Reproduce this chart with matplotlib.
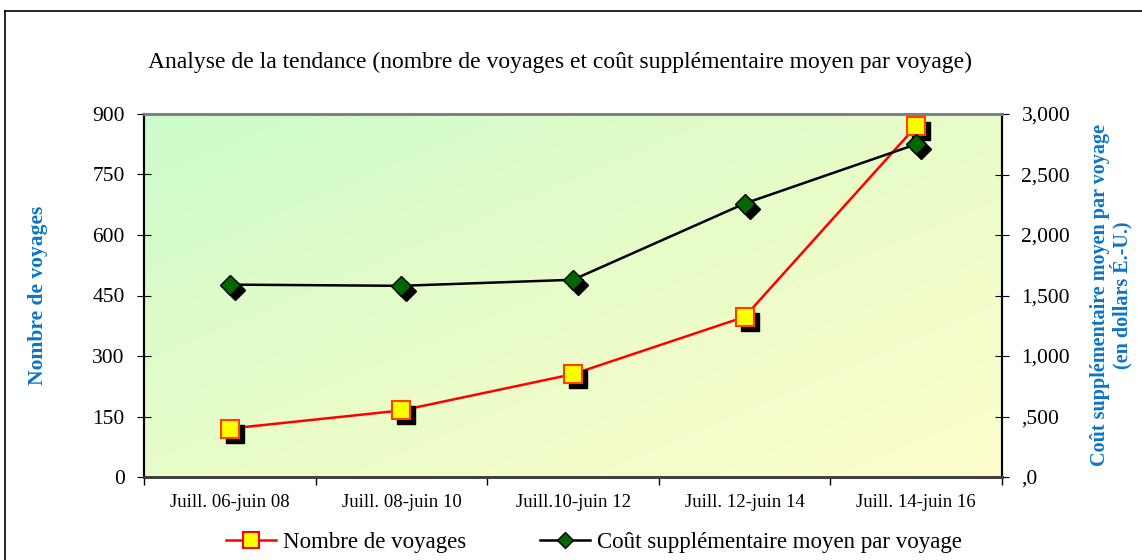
import numpy as np
import matplotlib
matplotlib.use("Agg")
import matplotlib.pyplot as plt
import matplotlib.transforms as mtransforms
from matplotlib.colors import LinearSegmentedColormap
from matplotlib.lines import Line2D

periods = ["Juill. 06-juin 08", "Juill. 08-juin 10", "Juill.10-juin 12",
           "Juill. 12-juin 14", "Juill. 14-juin 16"]
nb_voyages = [120, 165, 255, 397, 870]
cout_moyen = [1590, 1580, 1630, 2260, 2750]
right_ticks = [0, 500, 1000, 1500, 2000, 2500, 3000]
right_labels = [",0", ",500", "1,000", "1,500", "2,000", "2,500", "3,000"]

plt.rcParams["font.family"] = ["Liberation Serif", "DejaVu Serif"]
blue = "#0a74c8"

fig = plt.figure(figsize=(11.42, 5.6), dpi=100)
ax = fig.add_axes([144 / 1142, 1 - 477 / 560, 858 / 1142, 363 / 560])
ax2 = ax.twinx()

# gradient background, green top-left to yellow bottom-right
cmap = LinearSegmentedColormap.from_list("bg", ["#ccfccc", "#e8fcc8", "#fdfdcc"])
gx, gy = np.meshgrid(np.linspace(0, 1, 200), np.linspace(0, 1, 200))
grad = (gx + gy) / 2
ax.imshow(grad, cmap=cmap, extent=[-0.5, 4.5, 0, 900], aspect="auto", zorder=0)

x = np.arange(len(periods))
shadow = mtransforms.offset_copy(ax.transData, fig, x=5, y=-5, units="dots")
shadow2 = mtransforms.offset_copy(ax2.transData, fig, x=5, y=-5, units="dots")

ax.plot(x, nb_voyages, color="#ff0000", lw=1.8, zorder=2)
ax.plot(x, nb_voyages, ls="none", marker="s", ms=13, color="black",
        transform=shadow, zorder=3)
ax.plot(x, nb_voyages, ls="none", marker="s", ms=13, mfc="#ffff00",
        mec="#ff4000", mew=1.5, zorder=4)

ax2.plot(x, cout_moyen, color="black", lw=1.8, zorder=2)
ax2.plot(x, cout_moyen, ls="none", marker="D", ms=10, color="black",
         transform=shadow2, zorder=3)
ax2.plot(x, cout_moyen, ls="none", marker="D", ms=10, mfc="#006600",
         mec="black", mew=1, zorder=4)

ax.set_xlim(-0.5, 4.5)
ax.set_ylim(0, 900)
ax2.set_ylim(0, 3000)
ax.set_yticks([0, 150, 300, 450, 600, 750, 900])
ax2.set_yticks(right_ticks)
ax2.set_yticklabels(right_labels)
ax.set_xticks(x)
ax.set_xticklabels(periods)
ax.set_xticks(np.arange(-0.5, 5.0, 1.0), minor=True)
ax.tick_params(axis="x", which="major", length=0, pad=12, labelsize=13.5)
ax.tick_params(axis="x", which="minor", length=6, direction="out", width=1)
ax.tick_params(axis="y", direction="inout", length=10, labelsize=15.5, pad=9)
ax2.tick_params(axis="y", direction="inout", length=10, labelsize=15.5, pad=9)

for a in (ax, ax2):
    a.spines["top"].set_color("#808080")
    a.spines["top"].set_linewidth(2)
    a.spines["bottom"].set_color("#404040")
    a.spines["bottom"].set_linewidth(2)
    a.spines["left"].set_linewidth(1.5)
    a.spines["right"].set_linewidth(1.5)

ax.set_ylabel("Nombre de voyages", color=blue, fontweight="bold",
              fontsize=15.5, labelpad=32)
ax2.set_ylabel("Coût supplémentaire moyen par voyage\n(en dollars É.-U.)",
               color=blue, fontweight="bold", fontsize=14.5, labelpad=14,
               linespacing=1.0)

fig.text(560 / 1142, 1 - 62 / 560,
         "Analyse de la tendance (nombre de voyages et coût supplémentaire moyen par voyage)",
         ha="center", va="center", fontsize=17)

handles = [
    Line2D([], [], color="#ff0000", lw=1.8, marker="s", ms=11,
           mfc="#ffff00", mec="#ff0000", mew=1.5),
    Line2D([], [], color="black", lw=1.8, marker="D", ms=8,
           mfc="#006600", mec="black"),
]
fig.legend(handles, ["Nombre de voyages", "Coût supplémentaire moyen par voyage"],
           loc="center", bbox_to_anchor=(594 / 1142, 1 - 542 / 560), ncol=2,
           frameon=False, fontsize=16.5, handlelength=2.2, columnspacing=3.2,
           handletextpad=0.3)

# outer frame
fig.add_artist(plt.Line2D([5 / 1142, 5 / 1142], [0, 1 - 11 / 560],
                          transform=fig.transFigure, color="black", lw=1.2))
fig.add_artist(plt.Line2D([5 / 1142, 1], [1 - 11 / 560, 1 - 11 / 560],
                          transform=fig.transFigure, color="black", lw=1.2))

fig.savefig("out.png", dpi=100)
